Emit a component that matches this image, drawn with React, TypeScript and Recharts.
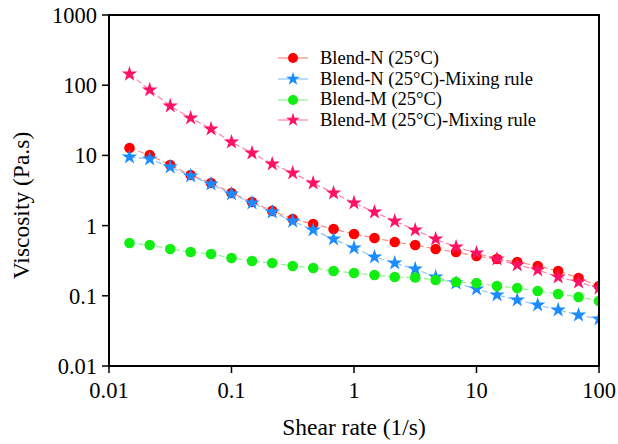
import React from 'react'
import { ScatterChart, Scatter, XAxis, YAxis, CartesianGrid, Symbols } from 'recharts'

// shear rate (1/s), 6 points per decade
const shearRate = [
  0.0147, 0.0215, 0.0316, 0.0464, 0.0681, 0.1, 0.147, 0.215, 0.316, 0.464, 0.681, 1,
  1.47, 2.15, 3.16, 4.64, 6.81, 10, 14.7, 21.5, 31.6, 46.4, 68.1, 100,
]

const blendN = [
  12.7, 10.1, 7.3, 5.26, 4.04, 2.91, 2.17, 1.62, 1.24, 1.05, 0.895, 0.759,
  0.666, 0.584, 0.529, 0.464, 0.421, 0.369, 0.334, 0.303, 0.266, 0.226, 0.179, 0.138,
]
const blendNMix = [
  9.49, 8.89, 6.84, 5.09, 3.92, 2.82, 2.1, 1.56, 1.16, 0.865, 0.644, 0.48,
  0.357, 0.293, 0.241, 0.185, 0.152, 0.125, 0.103, 0.0871, 0.0739, 0.0628, 0.0532, 0.0467,
]
const blendM = [
  0.565, 0.529, 0.464, 0.421, 0.394, 0.345, 0.313, 0.293, 0.266, 0.249, 0.226, 0.211,
  0.198, 0.185, 0.182, 0.168, 0.157, 0.152, 0.138, 0.129, 0.117, 0.106, 0.0962, 0.0844,
]
const blendMMix = [
  144, 85.5, 50.6, 34.1, 23.8, 15.5, 10.8, 7.54, 5.61, 4.04, 2.91, 2.1,
  1.56, 1.16, 0.865, 0.644, 0.495, 0.407, 0.334, 0.275, 0.233, 0.185, 0.157, 0.129,
]

const xTicks = [0.01, 0.1, 1, 10, 100]
const yTicks = [0.01, 0.1, 1, 10, 100, 1000]

const toPoints = (vals: number[]) => shearRate.map((x, i) => ({ x, y: vals[i] }))

const series = [
  { name: 'Blend-N (25°C)', data: toPoints(blendN), marker: 'circle', fill: '#ff0000', line: '#ff8a80' },
  { name: 'Blend-N (25°C)-Mixing rule', data: toPoints(blendNMix), marker: 'star', fill: '#1a8cff', line: '#8cc4ff' },
  { name: 'Blend-M (25°C)', data: toPoints(blendM), marker: 'circle', fill: '#11ee11', line: '#8ef58e' },
  { name: 'Blend-M (25°C)-Mixing rule', data: toPoints(blendMMix), marker: 'star', fill: '#ff1166', line: '#ff80aa' },
]

const FONT = '"Liberation Serif", "Times New Roman", serif'
const W = 618
const H = 444

// plot box, shared by the chart margins and the frame
const PLOT = { left: 109, top: 15, right: 19, xAxisH: 78 }

const markerShape = (type: string, fill: string) => (props: any) => {
  if (type === 'circle') return <circle cx={props.cx} cy={props.cy} r={5.3} fill={fill} />
  return <Symbols cx={props.cx} cy={props.cy} type="star" size={74} fill={fill} />
}

const LegendBox = () => (
  <div style={{ position: 'absolute', left: 278, top: 48, fontFamily: FONT, fontSize: 18.5, color: '#000' }}>
    {series.map((s) => (
      <div key={s.name} style={{ display: 'flex', alignItems: 'center', height: 20.7, whiteSpace: 'nowrap' }}>
        <svg width={42} height={20} style={{ flex: 'none' }}>
          <line x1={0} y1={10} x2={30} y2={10} stroke={s.line} strokeWidth={1.2} />
          {s.marker === 'circle' ? (
            <circle cx={15} cy={10} r={5} fill={s.fill} />
          ) : (
            <Symbols cx={15} cy={10} type="star" size={58} fill={s.fill} />
          )}
        </svg>
        <span>{s.name}</span>
      </div>
    ))}
  </div>
)

const YLabel = (props: any) => {
  const vb = props.viewBox
  const x = vb.x + 21
  const y = vb.y + vb.height / 2 + 15
  return (
    <text x={x} y={y} transform={`rotate(-90 ${x} ${y})`} textAnchor="middle" dominantBaseline="central"
      fontFamily={FONT} fontSize={23.5} fill="#000">
      Viscosity (Pa.s)
    </text>
  )
}

const XLabel = (props: any) => {
  const vb = props.viewBox
  return (
    <text x={vb.x + vb.width / 2} y={vb.y + 69} textAnchor="middle" fontFamily={FONT} fontSize={23.5} fill="#000">
      Shear rate (1/s)
    </text>
  )
}

const tickStyle = { fontSize: 22.5, fill: '#000', fontFamily: FONT }

export default function App() {
  const x0 = PLOT.left
  const x1 = W - PLOT.right
  const y0 = PLOT.top
  const y1 = H - PLOT.xAxisH
  return (
    <div style={{ position: 'absolute', left: 0, top: 0, width: W, height: H, background: '#fff' }}>
      <ScatterChart width={W} height={H} margin={{ top: PLOT.top, right: PLOT.right, left: 0, bottom: 0 }}>
        <CartesianGrid
          stroke="#000"
          strokeWidth={2}
          horizontalCoordinatesGenerator={({ offset }: any) => [offset.top]}
          verticalCoordinatesGenerator={({ offset }: any) => [offset.left + offset.width]}
        />
        <XAxis
          dataKey="x"
          type="number"
          scale="log"
          domain={[0.01, 100]}
          ticks={xTicks}
          allowDataOverflow
          height={PLOT.xAxisH}
          tickSize={7}
          tickMargin={9}
          axisLine={{ stroke: '#000', strokeWidth: 2 }}
          tickLine={{ stroke: '#000', strokeWidth: 1.5 }}
          tick={tickStyle}
          label={{ content: XLabel }}
        />
        <YAxis
          dataKey="y"
          type="number"
          scale="log"
          domain={[0.01, 1000]}
          ticks={yTicks}
          allowDataOverflow
          width={PLOT.left}
          tickSize={7}
          tickMargin={5}
          axisLine={{ stroke: '#000', strokeWidth: 2 }}
          tickLine={{ stroke: '#000', strokeWidth: 1.5 }}
          tick={tickStyle}
          label={{ content: YLabel }}
        />
        {series.map((s) => (
          <Scatter
            key={s.name}
            name={s.name}
            data={s.data}
            line={{ stroke: s.line, strokeWidth: 1.2, strokeDasharray: '6 3' }}
            lineType="joint"
            shape={markerShape(s.marker, s.fill)}
            isAnimationActive={false}
          />
        ))}
      </ScatterChart>
      {/* full box around the plot area */}
      <svg width={W} height={H} style={{ position: 'absolute', left: 0, top: 0, pointerEvents: 'none' }}>
        <rect x={x0} y={y0} width={x1 - x0} height={y1 - y0} fill="none" stroke="#000" strokeWidth={2} />
      </svg>
      <LegendBox />
    </div>
  )
}
